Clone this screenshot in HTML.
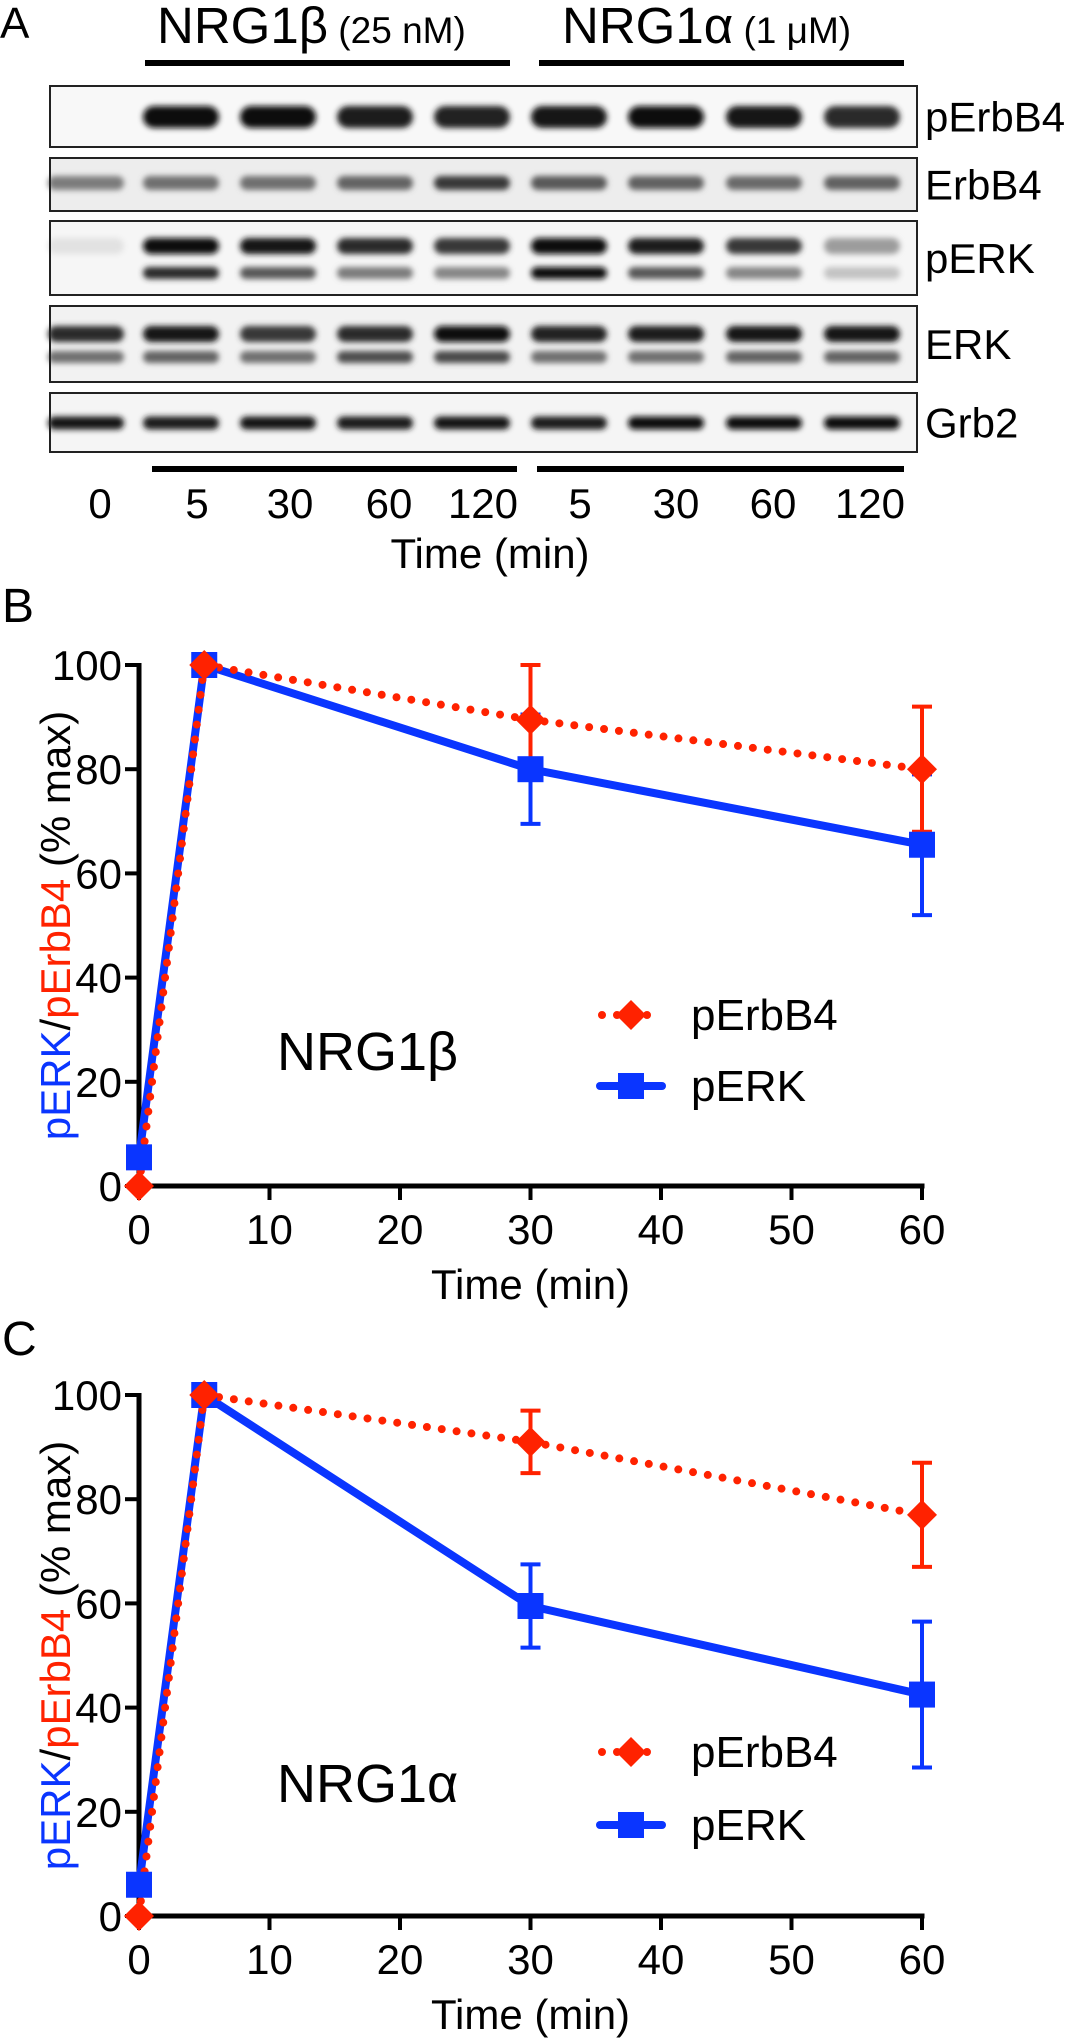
<!DOCTYPE html>
<html><head><meta charset="utf-8"><style>
html,body{margin:0;padding:0;background:#fff}
svg{display:block;font-family:"Liberation Sans",Arial,sans-serif}
</style></head><body>
<svg id="fig" width="1073" height="2041" viewBox="0 0 1073 2041" xmlns="http://www.w3.org/2000/svg">
<defs>
<filter id="blur" x="-20%" y="-100%" width="140%" height="300%"><feGaussianBlur stdDeviation="3"/></filter>
<filter id="blur2" x="-20%" y="-200%" width="140%" height="500%"><feGaussianBlur stdDeviation="6"/></filter>
</defs>
<g id="panelA">
<text x="0" y="38" font-size="44">A</text>
<text x="157" y="43" font-size="51">NRG1β<tspan font-size="37"> (25 nM)</tspan></text>
<text x="562" y="43" font-size="51">NRG1α<tspan font-size="37"> (1 μM)</tspan></text>
<rect x="145" y="60" width="365" height="6" fill="#000"/>
<rect x="539" y="60" width="365" height="6" fill="#000"/>
<g id="blots"></g>
<rect x="152" y="466" width="365" height="6" fill="#000"/>
<rect x="537" y="466" width="367" height="6" fill="#000"/>
<g id="laneLabels"></g>
<text x="490" y="568" font-size="42" text-anchor="middle">Time (min)</text>
</g>
<text x="2" y="622" font-size="48">B</text>
<text x="2" y="1355" font-size="48">C</text>
<g id="chartB"></g>
<g id="chartC"></g>
</svg>
<script>
// ---- Blot data (band intensities per lane, 0..1) ----
var laneLabels = ["0","5","30","60","120","5","30","60","120"];
var pErbB4Bands = [0, 1, 0.97, 0.92, 0.9, 0.95, 1, 0.95, 0.85];
var erbB4Bands = [0.5, 0.55, 0.55, 0.6, 0.8, 0.65, 0.62, 0.58, 0.62];
var pERKUpper = [0.04, 1, 0.95, 0.85, 0.8, 1, 0.92, 0.8, 0.35];
var pERKLower = [0, 0.85, 0.65, 0.5, 0.45, 0.97, 0.65, 0.45, 0.18];
var erkUpper = [0.85, 0.95, 0.8, 0.85, 1, 0.9, 0.92, 0.95, 0.95];
var erkLower = [0.55, 0.6, 0.55, 0.7, 0.72, 0.55, 0.55, 0.6, 0.6];
var grb2Bands = [0.95, 0.92, 0.95, 0.92, 0.95, 0.92, 0.97, 0.97, 0.98];

// ---- Chart B data (NRG1beta) ----
var timesMin = [0, 5, 30, 60];
var bErbB4 = [0, 100, 89.5, 80];
var bErbB4Err = [0, 0, 10.5, 12];
var bERK = [5.5, 100, 80, 65.5];
var bERKErr = [0, 0, 10.5, 13.5];
// ---- Chart C data (NRG1alpha) ----
var cErbB4 = [0, 100, 91, 77];
var cErbB4Err = [0, 0, 6, 10];
var cERK = [6, 100, 59.5, 42.5];
var cERKErr = [0, 0, 8, 14];
var xTicks = [0, 10, 20, 30, 40, 50, 60];
var yTicks = [0, 20, 40, 60, 80, 100];

var NS = "http://www.w3.org/2000/svg";
function mk(tag, attrs, parent) {
  var e = document.createElementNS(NS, tag);
  for (var k in attrs) e.setAttribute(k, attrs[k]);
  parent.appendChild(e);
  return e;
}
var RED = "#ff2200", BLUE = "#0a35ff";

// ---- Blots ----
var blots = document.getElementById('blots');
var laneX = [86, 181, 278, 375, 472, 569, 666, 764, 862];
function shade(v) { var g = Math.round(235 - 225 * v); return "rgb(" + g + "," + g + "," + g + ")"; }
function strip(name, top, bot, bandSets, bg) {
  var g = mk('g', {}, blots);
  
  
  var r = mk('rect', {x: 50, y: top, width: 867, height: bot - top, fill: bg}, g);
  
  
  bandSets.forEach(function (bs) {
    bs.vals.forEach(function (v, i) {
      if (v <= 0.02) return;
      var b = mk('rect', {x: laneX[i] - 38, y: bs.cy - bs.h / 2, width: 76, height: bs.h, rx: bs.h / 2, fill: shade(v), filter: 'url(#blur)'}, g);
      
      
    });
  });
  var f = mk('rect', {x: 50, y: top, width: 867, height: bot - top, fill: 'none', stroke: '#222', 'stroke-width': 2}, g);
  
  
  var t = mk('text', {x: 925, y: (top + bot) / 2 + 15, 'font-size': 42}, g);
  t.textContent = name;
  
  
}
strip('pErbB4', 86, 147, [{vals: pErbB4Bands, cy: 117, h: 22}], '#f8f8f8');
strip('ErbB4', 158, 211, [{vals: erbB4Bands, cy: 183, h: 14}], '#ededed');
strip('pERK', 221, 295, [{vals: pERKUpper, cy: 246, h: 16}, {vals: pERKLower, cy: 273, h: 12}], '#f6f6f6');
strip('ERK', 306, 382, [{vals: erkUpper, cy: 334, h: 16}, {vals: erkLower, cy: 357, h: 12}], '#f2f2f2');
strip('Grb2', 393, 452, [{vals: grb2Bands, cy: 423, h: 13}], '#f5f5f5');

var ll = document.getElementById('laneLabels');
var labX = [100, 197, 290, 389, 483, 580, 676, 773, 870];
laneLabels.forEach(function (s, i) {
  var t = mk('text', {x: labX[i], y: 518, 'font-size': 42, 'text-anchor': 'middle'}, ll);
  t.textContent = s;
  
  
});

// ---- Charts ----
function chart(gid, y0, erb, erbErr, erk, erkErr, title, legY1, legY2, titleY) {
  var g = document.getElementById(gid);
  var X0 = 139, XS = 13.05, YS = 5.21;
  function sx(t) { return X0 + t * XS; }
  function sy(v) { return y0 - v * YS; }
  // axes
  var ya = mk('line', {x1: X0, y1: sy(0) + 2.5, x2: X0, y2: sy(100) - 2, stroke: '#000', 'stroke-width': 5}, g);
  
  
  var xa = mk('line', {x1: X0 - 2.5, y1: y0, x2: sx(60) + 2.5, y2: y0, stroke: '#000', 'stroke-width': 5}, g);
  
  
  yTicks.forEach(function (v) {
    var tk = mk('line', {x1: X0 - 14, y1: sy(v), x2: X0, y2: sy(v), stroke: '#000', 'stroke-width': 4}, g);
    
    
    var tl = mk('text', {x: 122, y: sy(v) + 15, 'font-size': 42, 'text-anchor': 'end'}, g);
    tl.textContent = v;
    
    
  });
  xTicks.forEach(function (v) {
    var tk = mk('line', {x1: sx(v), y1: y0, x2: sx(v), y2: y0 + 14, stroke: '#000', 'stroke-width': 4}, g);
    
    
    var tl = mk('text', {x: sx(v), y: y0 + 58, 'font-size': 42, 'text-anchor': 'middle'}, g);
    tl.textContent = v;
    
    
  });
  var xt = mk('text', {x: sx(30), y: y0 + 113, 'font-size': 42, 'text-anchor': 'middle'}, g);
  xt.textContent = 'Time (min)';
  
  
  var ytY = sy(50) + 0;
  var yt = mk('text', {x: 0, y: 0, 'font-size': 42, 'text-anchor': 'middle', transform: 'translate(70,' + ytY + ') rotate(-90)'}, g);
  
  
  yt.innerHTML = '<tspan fill="' + BLUE + '">pERK</tspan>/<tspan fill="' + RED + '">pErbB4</tspan> (% max)';
  // error bars
  function errs(vals, e, col, name) {
    vals.forEach(function (v, i) {
      if (!e[i]) return;
      var l = mk('line', {x1: sx(timesMin[i]), y1: sy(v + e[i]), x2: sx(timesMin[i]), y2: sy(v - e[i]), stroke: col, 'stroke-width': 4}, g);
      
      
      [v + e[i], v - e[i]].forEach(function (c) {
        var cp = mk('line', {x1: sx(timesMin[i]) - 10, y1: sy(c), x2: sx(timesMin[i]) + 10, y2: sy(c), stroke: col, 'stroke-width': 4}, g);
        
        
      });
    });
  }
  errs(erk, erkErr, BLUE, 'perk');
  errs(erb, erbErr, RED, 'perbb4');
  var ptsK = erk.map(function (v, i) { return sx(timesMin[i]) + ',' + sy(v); }).join(' ');
  var lk = mk('polyline', {points: ptsK, fill: 'none', stroke: BLUE, 'stroke-width': 8, 'stroke-linejoin': 'round'}, g);
  
  
  var ptsE = erb.map(function (v, i) { return sx(timesMin[i]) + ',' + sy(v); }).join(' ');
  var le = mk('polyline', {points: ptsE, fill: 'none', stroke: RED, 'stroke-width': 8, 'stroke-dasharray': '0 15', 'stroke-linecap': 'round'}, g);
  
  
  function square(cx, cy, s, name) {
    var r = mk('rect', {x: cx - s / 2, y: cy - s / 2, width: s, height: s, fill: BLUE}, g);
    
    
  }
  function diamond(cx, cy, s, name) {
    var p = mk('polygon', {points: cx + ',' + (cy - s) + ' ' + (cx + s) + ',' + cy + ' ' + cx + ',' + (cy + s) + ' ' + (cx - s) + ',' + cy, fill: RED}, g);
    
    
  }
  erk.forEach(function (v, i) { square(sx(timesMin[i]), sy(v), 26, 'perk-point'); });
  erb.forEach(function (v, i) { diamond(sx(timesMin[i]), sy(v), 15, 'perbb4-point'); });
  // legend
  var l1 = mk('line', {x1: 602, y1: legY1, x2: 662, y2: legY1, stroke: RED, 'stroke-width': 8, 'stroke-dasharray': '0 15', 'stroke-linecap': 'round'}, g);
  
  
  diamond(631, legY1, 15, 'legend-perbb4-marker');
  var t1 = mk('text', {x: 691, y: legY1 + 15, 'font-size': 44}, g);
  t1.textContent = 'pErbB4';
  
  
  var l2 = mk('line', {x1: 600, y1: legY2, x2: 662, y2: legY2, stroke: BLUE, 'stroke-width': 8, 'stroke-linecap': 'round'}, g);
  
  
  square(631, legY2, 26, 'legend-perk-marker');
  var t2 = mk('text', {x: 691, y: legY2 + 15, 'font-size': 44}, g);
  t2.textContent = 'pERK';
  
  
  var tt = mk('text', {x: 277, y: titleY, 'font-size': 54}, g);
  tt.textContent = title;
  
  
}
chart('chartB', 1186, bErbB4, bErbB4Err, bERK, bERKErr, 'NRG1β', 1015, 1086, 1070);
chart('chartC', 1916, cErbB4, cErbB4Err, cERK, cERKErr, 'NRG1α', 1752, 1825, 1802);
</script>
</body></html>
